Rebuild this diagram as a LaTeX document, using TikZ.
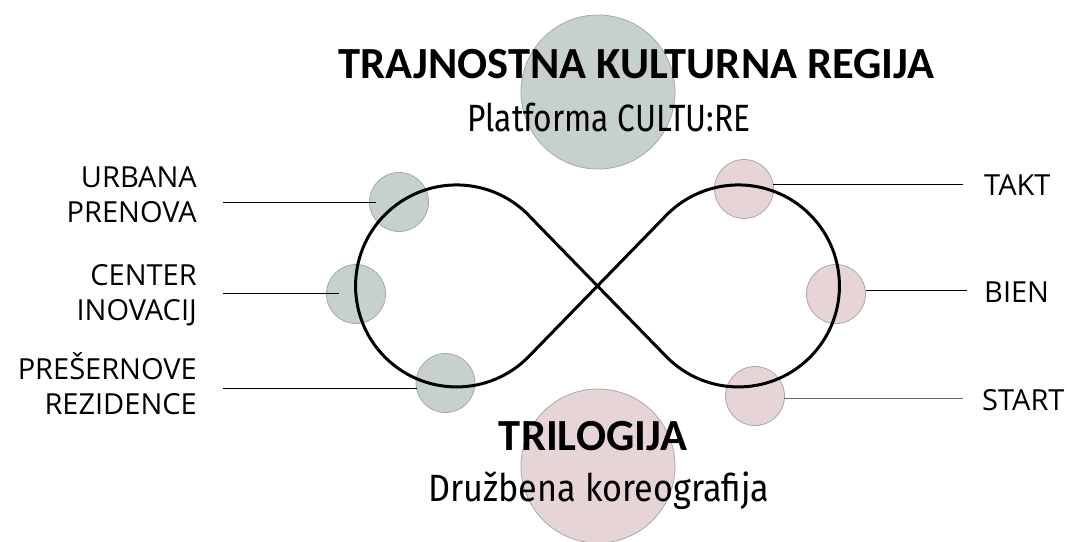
\documentclass[tikz,border=0pt]{standalone}
\usepackage{fontspec}
\setmainfont{Carlito}
\newfontfamily\labfont{Open Sans}
\newfontfamily\subfont{Fira Sans}[FakeStretch=0.835]
\newfontfamily\subfontw{Fira Sans}[FakeStretch=0.9]
\definecolor{sage}{HTML}{C5D1CA}
\definecolor{rose}{HTML}{E6D4D6}
\definecolor{rim}{HTML}{A8A8A8}
\begin{document}
\begin{tikzpicture}[x=1pt,y=-1pt,
  dot/.style={circle, fill=#1, draw=rim, line width=0.8pt, inner sep=0pt, minimum size=59pt},
  big/.style={circle, fill=#1, draw=rim, line width=0.8pt, inner sep=0pt, minimum size=154pt},
  leader/.style={line width=1pt, black},
  lab/.style={font=\labfont\fontsize{29}{35}\selectfont, inner sep=0pt},
  ttl/.style={font=\bfseries\fontsize{44.5}{50}\selectfont, inner sep=0pt, anchor=base},
  subttl/.style={font=\subfont\fontsize{38}{44}\selectfont, inner sep=0pt, anchor=base},
  subttlw/.style={font=\subfontw\fontsize{38}{44}\selectfont, inner sep=0pt, anchor=base},
  loopline/.style={line width=3pt, black, line join=round}
]
\useasboundingbox (0,0) rectangle (1067,541);
% big circles
\node[big=sage] (top) at (598,92) {};
\node[big=rose] (bot) at (598,466) {};
% small circles
\node[dot=sage] (u) at (399,202) {};
\node[dot=sage] (c) at (356,294) {};
\node[dot=sage] (p) at (445.5,383) {};
\node[dot=rose] (t) at (744,189) {};
\node[dot=rose] (b) at (836,294) {};
\node[dot=rose] (s) at (755,396) {};
% infinity
\draw[loopline] (528.9,215.6) -- (666.1,356.4)
  arc[start angle=135.75, end angle=-135.75, radius=101]
  -- (528.9,356.4)
  arc[start angle=44.25, end angle=315.75, radius=101] -- cycle;
% labels
\node[lab, anchor=base east, align=right] (lu) at (197,222) {URBANA\\PRENOVA};
\node[lab, anchor=base east, align=right] (lc) at (197,320) {CENTER\\INOVACIJ};
\node[lab, anchor=base east, align=right] (lp) at (197,414) {PREŠERNOVE\\REZIDENCE};
\node[lab, anchor=base west] (lt) at (984,195) {TAKT};
\node[lab, anchor=base west] (lb) at (984,302) {BIEN};
\node[lab, anchor=base west] (ls) at (982,410) {START};
% leaders
\coordinate (lu0) at (223,202); \coordinate (lu1) at (376,202);
\coordinate (lc0) at (223,293); \coordinate (lc1) at (339,293);
\coordinate (lp0) at (223,388); \coordinate (lp1) at (417,388);
\coordinate (lt0) at (773,184); \coordinate (lt1) at (963,184);
\coordinate (lb0) at (866,290); \coordinate (lb1) at (967,290);
\coordinate (ls0) at (784,398); \coordinate (ls1) at (963,398);
\draw[leader] (lu0) -- (lu1);
\draw[leader] (lc0) -- (lc1);
\draw[leader] (lp0) -- (lp1);
\draw[leader] (lt0) -- (lt1);
\draw[leader] (lb0) -- (lb1);
\draw[leader, draw=black!60] (ls0) -- (ls1);
% titles
\node[ttl] (t1) at (636.5,78) {TRAJNOSTNA KULTURNA REGIJA};
\node[subttl] (s1) at (609,131) {Platforma CULTU:RE};
\node[ttl] (t2) at (593,450) {TRILOGIJA};
\node[subttlw] (s2) at (599,501) {Družbena koreografija};
\end{tikzpicture}
\end{document}
